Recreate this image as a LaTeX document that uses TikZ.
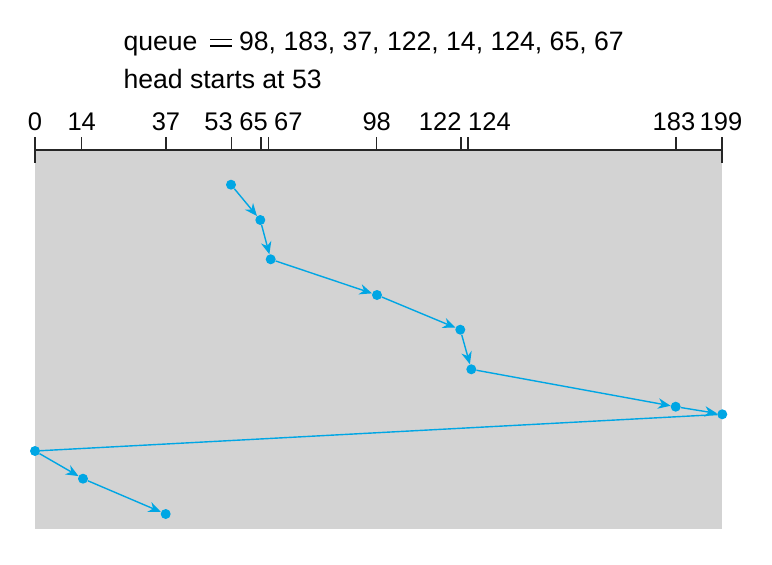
\documentclass[tikz,border=0pt]{standalone}
\usepackage{fontspec}
\setmainfont{Liberation Sans}
\usetikzlibrary{arrows.meta}
\definecolor{dotblue}{RGB}{0,166,228}
\definecolor{panel}{RGB}{211,211,211}
\newcommand{\bigeq}{\hspace{13pt}\rlap{\rule[10pt]{21.7pt}{1.5pt}}\rule[3.4pt]{21.7pt}{1.5pt}\hspace{7pt}}
\begin{document}
\begin{tikzpicture}[x=1pt,y=-1pt,
  pt/.style={circle,fill=dotblue,inner sep=0pt,minimum size=10pt},
  mv/.style={draw=dotblue,line width=1.4pt,-{Stealth[length=12.5pt,width=10.5pt,inset=4pt]}},
  jump/.style={draw=dotblue,line width=1.4pt},
  hdr/.style={font=\fontsize{26.6}{32}\selectfont,inner sep=0pt},
  lbl/.style={font=\fontsize{25.5}{30}\selectfont,inner sep=0pt},
  tick/.style={line width=1.3pt,black!85}]
\useasboundingbox (0,0) rectangle (772,565);
\fill[panel] (35,150) rectangle (722,529);
% text
\node[hdr,anchor=base west] (q) at (123.3,50) {queue\bigeq 98, 183, 37, 122, 14, 124, 65, 67};
\node[hdr,anchor=base west] (h) at (123.3,88) {head starts at 53};
% axis
\coordinate (a0) at (35,150);
\coordinate (a199) at (722,150);
\draw[tick] (a0) -- (a199);
\draw[tick] (35,137) -- (35,163);
\draw[tick] (722,137) -- (722,163);
\foreach \x in {81.7,166,231.3,261,268.7,376.7,461,468,676}
  \draw[tick] (\x,137) -- (\x,150);
% axis labels
\node[lbl,anchor=base] (l0) at (35,130) {0};
\node[lbl,anchor=base] (l14) at (81.7,130) {14};
\node[lbl,anchor=base] (l37) at (166,130) {37};
\node[lbl,anchor=base east] (l53) at (233,130) {53};
\node[lbl,anchor=base east] (l65) at (268,130) {65};
\node[lbl,anchor=base west] (l67) at (274,130) {67};
\node[lbl,anchor=base] (l98) at (376.7,130) {98};
\node[lbl,anchor=base east] (l122) at (461.7,130) {122};
\node[lbl,anchor=base west] (l124) at (468,130) {124};
\node[lbl,anchor=base] (l183) at (674,130) {183};
\node[lbl,anchor=base] (l199) at (721,130) {199};
% points
\node[pt] (p53) at (231,184.7) {};
\node[pt] (p65) at (260.3,220) {};
\node[pt] (p67) at (270.7,259.3) {};
\node[pt] (p98) at (377,295) {};
\node[pt] (p122) at (460.3,329.7) {};
\node[pt] (p124) at (471.3,369.3) {};
\node[pt] (p183) at (675.7,406.7) {};
\node[pt] (p199) at (722.3,414.3) {};
\node[pt] (p0) at (35,451) {};
\node[pt] (p14) at (83,478.7) {};
\node[pt] (p37) at (165.7,514) {};
% moves
\draw[mv] (p53) -- (p65);
\draw[mv] (p65) -- (p67);
\draw[mv] (p67) -- (p98);
\draw[mv] (p98) -- (p122);
\draw[mv] (p122) -- (p124);
\draw[mv] (p124) -- (p183);
\draw[mv] (p183) -- (p199);
\draw[jump] (p199) -- (p0);
\draw[mv] (p0) -- (p14);
\draw[mv] (p14) -- (p37);
\end{tikzpicture}
\end{document}
